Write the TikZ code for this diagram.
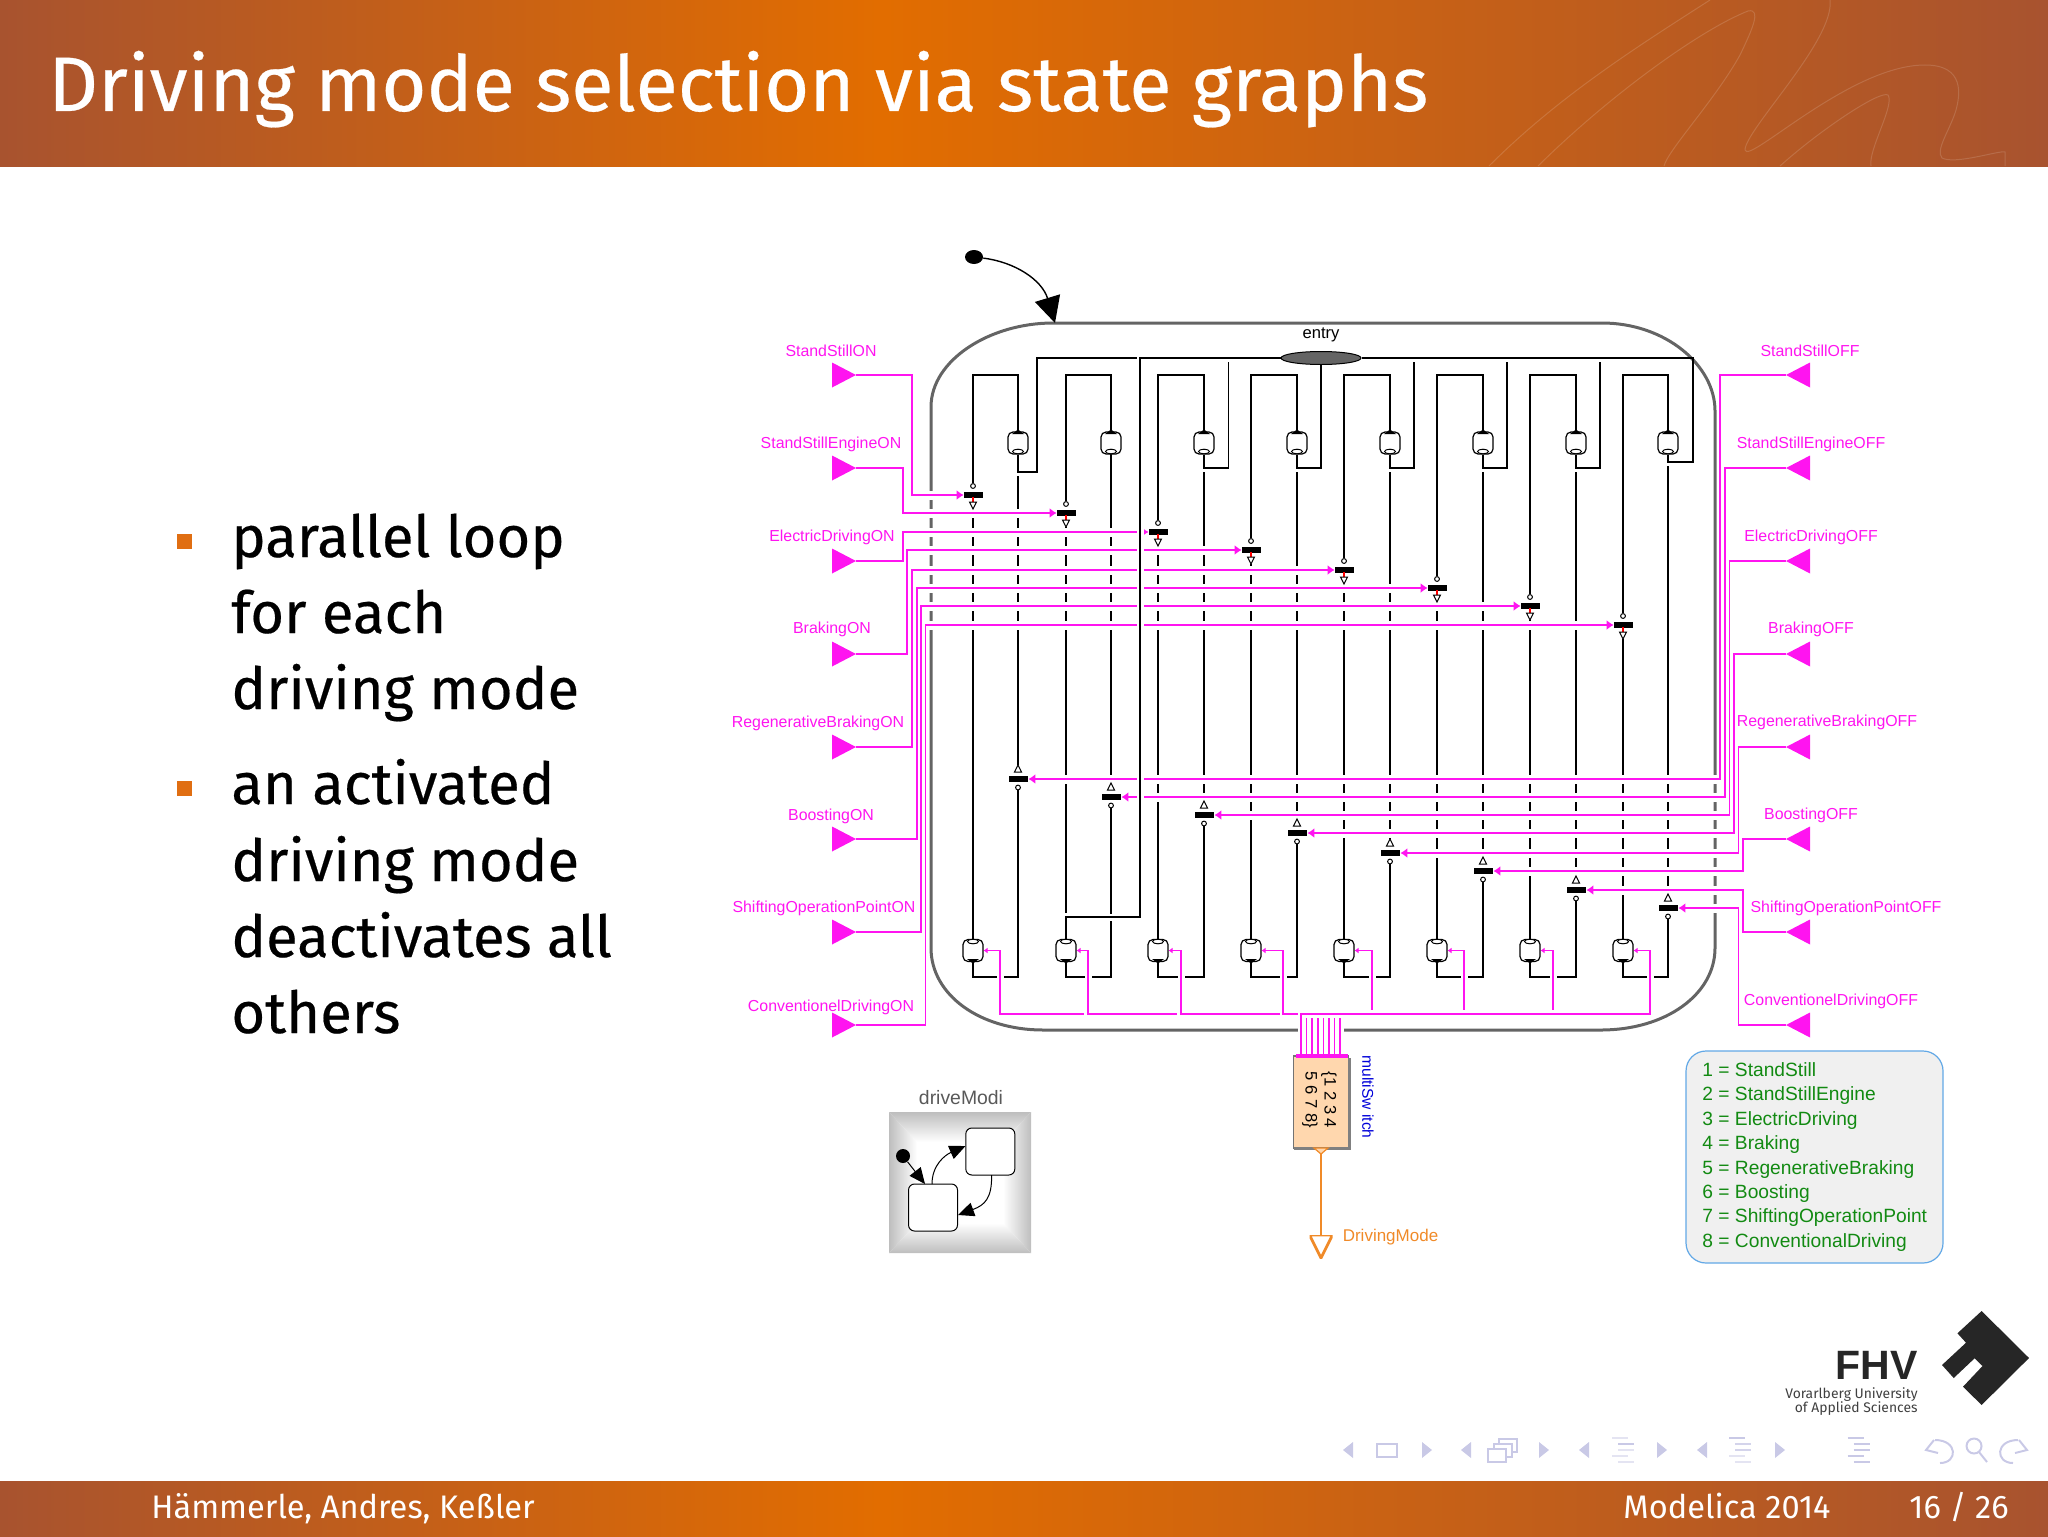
\documentclass[tikz,border=0pt]{standalone}
\usepackage{fontspec}
\setmainfont{Liberation Sans}
\newfontfamily\firafont{Fira Sans}
\newfontfamily\firaheavy{Fira Sans}[FakeBold=0.35]
\usetikzlibrary{arrows.meta,shapes.geometric}
\definecolor{bandedge}{HTML}{A8532F}
\definecolor{bandmid}{HTML}{E26D00}
\definecolor{pmag}{HTML}{FF14F0}
\definecolor{rimgray}{HTML}{646464}
\definecolor{orout}{HTML}{F08A28}
\definecolor{peach}{HTML}{FFD7AE}
\definecolor{navc}{HTML}{C9C9E6}
\definecolor{leggreen}{HTML}{128A12}
\definecolor{legline}{HTML}{62A8E6}
\definecolor{iconedge}{HTML}{BEBEBE}
\definecolor{bulletc}{HTML}{E06E12}
\pgfdeclarehorizontalshading{bandshade}{100bp}{color(0bp)=(bandedge);color(25bp)=(bandedge);color(46.5bp)=(bandmid);color(75bp)=(bandedge);color(100bp)=(bandedge)}
\pgfdeclarelayer{under}
\pgfsetlayers{under,main}
\tikzset{
  blk/.style={black,line width=0.65pt},
  magline/.style={pmag,line width=0.8pt},
  magarrow/.style={magline,-{Latex[length=3.5pt,width=5pt]}},
  halo/.style={white,line width=4.5pt},
  rimline/.style={rimgray,line width=1.5pt},
  stepbox/.style={rectangle,rounded corners=2.5pt,draw=black,fill=white,line width=0.6pt,minimum width=10pt,minimum height=11pt,inner sep=0pt},
  barnode/.style={rectangle,fill=black,minimum width=9.5pt,minimum height=2.6pt,inner sep=0pt},
  tickcirc/.style={circle,draw=black,fill=white,line width=0.5pt,minimum size=2.4pt,inner sep=0pt},
  onport/.style={rectangle,inner sep=0pt,minimum width=12pt,minimum height=12.5pt,path picture={\fill[pmag] (path picture bounding box.north west) -- (path picture bounding box.east) -- (path picture bounding box.south west) -- cycle;}},
  offport/.style={rectangle,inner sep=0pt,minimum width=12pt,minimum height=12.5pt,path picture={\fill[pmag] (path picture bounding box.north east) -- (path picture bounding box.west) -- (path picture bounding box.south east) -- cycle;}},
  maglabel/.style={text=pmag,font=\fontsize{7.95}{9}\selectfont,inner sep=0pt},
  titletext/.style={text=white,font=\firaheavy\fontsize{38.6}{44}\selectfont,anchor=base west,inner sep=0pt},
  bodytext/.style={text=black,font=\firaheavy\fontsize{29}{34}\selectfont,anchor=base west,inner sep=0pt},
  foottext/.style={text=white,font=\firafont\fontsize{16.3}{20}\selectfont,anchor=base west,inner sep=0pt},
  bullet/.style={rectangle,fill=bulletc,minimum size=7.5pt,inner sep=0pt},
  navfill/.style={fill=navc,draw=none},
  navline/.style={navc,line width=1pt},
  wisp/.style={white,opacity=0.14,line width=0.5pt},
}
\begin{document}
\begin{tikzpicture}[x=0.5pt,y=-0.5pt]
\useasboundingbox (0,0) rectangle (2048,1536);
% header and footer bands
\shade[shading=bandshade] (0,0) rectangle (2048,166);
\shade[shading=bandshade] (0,1481) rectangle (2048,1536);
\draw[wisp] (1489,166) .. controls (1560,95) and (1640,45) .. (1710,0);
\draw[wisp] (1538,166) .. controls (1610,95) and (1700,30) .. (1748,11) .. controls (1762,8) and (1752,30) .. (1740,55) .. controls (1715,100) and (1668,150) .. (1664,166);
\draw[wisp] (1830,0) .. controls (1835,40) and (1745,130) .. (1745,150) .. controls (1748,165) and (1850,65) .. (1925,65) .. controls (1965,65) and (1960,95) .. (1956,110) .. controls (1950,130) and (1935,150) .. (1942,158) .. controls (1955,165) and (2000,150) .. (2005,152) -- (2005,166);
\draw[wisp] (1780,166) .. controls (1820,130) and (1880,90) .. (1888,95) .. controls (1895,105) and (1868,150) .. (1871,166);
\node[titletext] (title) at (48,111) {Driving mode selection via state graphs};
% body text
\node[bullet] (b1) at (184.5,541) {};
\node[bullet] (b2) at (184.5,788) {};
\node[bodytext] (l1) at (231,557) {parallel loop};
\node[bodytext] (l2) at (231,633) {for each};
\node[bodytext] (l3) at (231,709) {driving mode};
\node[bodytext] (l4) at (231,804) {an activated};
\node[bodytext] (l5) at (231,881) {driving mode};
\node[bodytext] (l6) at (231,957) {deactivates all};
\node[bodytext] (l7) at (231,1033) {others};
% footer text
\node[foottext] (f1) at (151,1518) {Hämmerle, Andres, Keßler};
\node[foottext] (f2) at (1623,1518) {Modelica 2014};
\node[foottext] (f3) at (1909,1518) {16 / 26};
% logo
\fill[black!85] (1981.6,1311) -- (2029,1358) -- (1981.6,1405) -- (1963,1386.7) -- (1982.5,1366) -- (1974.6,1358.3) -- (1953.7,1378) -- (1942,1365) -- (1966,1342.7) -- (1957.4,1333.3) -- cycle;
\node[anchor=base east,inner sep=0pt,font=\bfseries\fontsize{20.5}{24}\selectfont,text=black!85] (fhv) at (1918,1379) {FHV};
\node[anchor=east,inner sep=0pt,font=\firafont\fontsize{6.95}{8}\selectfont,text=black!75] (vor) at (1918,1394.5) {Vorarlberg University};
\node[anchor=east,inner sep=0pt,font=\firafont\fontsize{6.95}{8}\selectfont,text=black!75] (app) at (1918,1409) {of Applied Sciences};
% navigation symbols
\foreach \x in {1348,1466,1584,1702}{\fill[navfill] (\x+5,1442) -- (\x-5,1450) -- (\x+5,1458) -- cycle;}
\foreach \x in {1427,1544,1662,1780}{\fill[navfill] (\x-5,1442) -- (\x+5,1450) -- (\x-5,1458) -- cycle;}
\draw[navline] (1377,1444) rectangle (1397,1457);
\draw[navline] (1499,1439) rectangle (1517,1452);
\draw[navline,fill=white] (1494,1444) rectangle (1512,1457);
\draw[navline,fill=white] (1488,1449) rectangle (1506,1462);
\foreach \x/\oa/\ob/\oc/\od/\oe in {1623/.5/1/.5/.5/.5,1740/1/.8/.8/.5/.5,1858.5/1/1/1/1/1}{
  \draw[navline,line width=1.3pt,opacity=\oa] (\x-11,1438) -- (\x+5,1438);
  \draw[navline,line width=1.3pt,opacity=\ob] (\x-5,1444) -- (\x+11,1444);
  \draw[navline,line width=1.3pt,opacity=\oc] (\x-5,1450) -- (\x+11,1450);
  \draw[navline,line width=1.3pt,opacity=\od] (\x-11,1456) -- (\x+5,1456);
  \draw[navline,line width=1.3pt,opacity=\oe] (\x-5,1462) -- (\x+11,1462);
}
\draw[navline] (1935,1440) .. controls (1958,1440) and (1958,1463) .. (1940,1463);
\draw[navline] (1934,1440) -- (1926,1450) -- (1938,1453);
\draw[navline] (1974,1446) circle[radius=7.5];
\draw[navline] (1979,1452) -- (1987,1462);
\draw[navline] (2018,1440) .. controls (1995,1440) and (1995,1463) .. (2013,1463);
\draw[navline] (2019,1440) -- (2027,1450) -- (2015,1453);

% state-machine nodes
\node[ellipse,fill=black,minimum width=9pt,minimum height=7pt,inner sep=0pt] (init) at (974,257) {};
\coordinate (rimentry) at (1055,323);
\node[ellipse,draw=black,fill=rimgray,line width=0.5pt,minimum width=40pt,minimum height=6.5pt,inner sep=0pt] (entry) at (1321,358) {};
\node[inner sep=0pt,font=\fontsize{8.3}{10}\selectfont] (entrytxt) at (1321,335) {entry};
\foreach \i/\L/\R/\ya/\yb in {1/973/1018/495/779,2/1066/1111/513/797,3/1158/1204/532/815,4/1251/1297/550/833,5/1344/1390/570/853,6/1437/1483/588/871,7/1530/1576/606/890,8/1623/1668/625/908}{
  \node[stepbox] (stepT\i) at (\R,443) {};
  \fill (\R-6,434) -- (\R,429.5) -- (\R+6,434) -- cycle;
  \draw[line width=0.5pt,fill=white] (\R,451.5) ellipse[x radius=5.5,y radius=2.3];
  \node[stepbox] (stepB\i) at (\L,950.5) {};
  \fill (\L-6,959) -- (\L,963.5) -- (\L+6,959) -- cycle;
  \draw[line width=0.5pt,fill=white] (\L,941.5) ellipse[x radius=5.5,y radius=2.3];
  \node[barnode] (onbar\i) at (\L+0.5,\ya) {};
  \node[tickcirc] (onc\i) at (\L,\ya-9) {};
  \draw[red,line width=0.6pt] (\L,\ya+2) -- (\L,\ya+7);
  \draw[line width=0.5pt,fill=white] (\L-3.5,\ya+7) -- (\L+3.5,\ya+7) -- (\L,\ya+14) -- cycle;
  \node[barnode] (offbar\i) at (\R+0.5,\yb) {};
  \node[tickcirc] (offc\i) at (\R,\yb+8.5) {};
  \draw[line width=0.5pt,fill=white] (\R-3.5,\yb-7) -- (\R+3.5,\yb-7) -- (\R,\yb-14) -- cycle;
}
% ports and labels
\foreach \i/\y/\tx/\ty/\lab in {1/375/831/350.5/StandStillON,2/468/831/444.5/StandStillEngineON,3/561/832/537.5/ElectricDrivingON,4/654/832/629.5/BrakingON,5/747/818/723.5/RegenerativeBrakingON,6/839/831/816/BoostingON,7/932/824/908.5/ShiftingOperationPointON,8/1025/831/1007.5/ConventionelDrivingON}{
  \node[onport] (on\i) at (844,\y) {};
  \node[maglabel] (labon\i) at (\tx,\ty) {\lab};
}
\foreach \i/\y/\tx/\ty/\lab in {1/375/1810/350.5/StandStillOFF,2/468/1811/444.5/StandStillEngineOFF,3/561/1811/537.5/ElectricDrivingOFF,4/654/1811/629.5/BrakingOFF,5/747/1827/722.5/RegenerativeBrakingOFF,6/839/1811/815.5/BoostingOFF,7/932/1846/908.5/ShiftingOperationPointOFF,8/1025/1831/1001.5/ConventionelDrivingOFF}{
  \node[offport] (off\i) at (1798,\y) {};
  \node[maglabel] (laboff\i) at (\tx,\ty) {\lab};
}
% multiSwitch
\node[rectangle,draw=black!55,fill=peach,line width=0.7pt,minimum width=27.5pt,minimum height=46pt,inner sep=0pt] (msw) at (1321,1102) {};
\draw[black!50,line width=1.5pt] (1294,1148) -- (1349,1148) -- (1349,1058);
\node[rotate=-90,inner sep=0pt,font=\fontsize{8.3}{10}\selectfont] (sw1) at (1329,1100) {\{1 2 3 4};
\node[rotate=-90,inner sep=0pt,font=\fontsize{8.3}{10}\selectfont] (sw2) at (1310,1100) {5 6 7 8\}};
\node[rotate=-90,inner sep=0pt,text=blue!85!black,font=\fontsize{7.8}{9}\selectfont] (swlab) at (1368,1097) {multiSw\kern2.2pt\relax itch};
\draw[pmag,line width=2pt] (1296,1056) -- (1348,1056);
% output
\coordinate (outtop) at (1321,1153);
\node[rectangle,inner sep=0pt,minimum width=11.5pt,minimum height=11.5pt,path picture={\draw[orout,line width=1.4pt] (path picture bounding box.north west) -- (path picture bounding box.north east) -- (path picture bounding box.south) -- cycle;}] (outport) at (1321,1246.5) {};
\draw[orout,line width=0.6pt,fill=peach] (1314,1148) -- (1328,1148) -- (1321,1154) -- cycle;
\node[text=orout,inner sep=0pt,font=\fontsize{8.5}{10}\selectfont] (outlab) at (1390.5,1237) {DrivingMode};
% driveModi icon
\fill[white] (889,1112) rectangle (1031,1253);
\shade[top color=iconedge,bottom color=white] (889,1112) -- (1031,1112) -- (1003,1142) -- (917,1142) -- cycle;
\shade[bottom color=iconedge,top color=white] (889,1253) -- (1031,1253) -- (1003,1223) -- (917,1223) -- cycle;
\shade[left color=iconedge,right color=white] (889,1112) -- (917,1142) -- (917,1223) -- (889,1253) -- cycle;
\shade[right color=iconedge,left color=white] (1031,1112) -- (1003,1142) -- (1003,1223) -- (1031,1253) -- cycle;
\node[inner sep=0pt,text=black!65,font=\fontsize{9.7}{11}\selectfont] (iconlab) at (961,1098) {driveModi};
\node[rectangle,rounded corners=3pt,draw=black,fill=white,line width=0.5pt,minimum width=24.5pt,minimum height=23.5pt,inner sep=0pt] (iconA) at (990.3,1151.5) {};
\node[rectangle,rounded corners=3pt,draw=black,fill=white,line width=0.5pt,minimum width=24.5pt,minimum height=23.5pt,inner sep=0pt] (iconB) at (933,1207.5) {};
\node[ellipse,fill=black,minimum width=7pt,minimum height=7pt,inner sep=0pt] (icondot) at (903,1156) {};
\coordinate (iconAin) at (965.5,1146);
\coordinate (iconBtop) at (925,1184);
\coordinate (iconBright) at (958,1215);
\coordinate (iconAout) at (991.6,1175);
\coordinate (iconBout) at (932,1184);
\draw[line width=0.5pt,-{Triangle[length=8pt,width=7pt]}] (icondot) -- (iconBtop);
\draw[line width=0.5pt,-{Triangle[length=8pt,width=7pt]}] (iconBout) .. controls (932,1165) and (945,1155) .. (iconAin);
\draw[line width=0.5pt,-{Triangle[length=8pt,width=7pt]}] (iconAout) .. controls (992,1198) and (985,1205) .. (iconBright);
% legend
\node[rectangle,rounded corners=10pt,draw=legline,fill=black!6,line width=0.6pt,minimum width=128.5pt,minimum height=106pt,inner sep=0pt] (legend) at (1814.5,1157) {};
\node[anchor=west,inner sep=0pt,align=left,text=leggreen,font=\fontsize{9.6}{12.2}\selectfont] (legendtext) at (1702,1157) {1 = StandStill\\2 = StandStillEngine\\3 = ElectricDriving\\4 = Braking\\5 = RegenerativeBraking\\6 = Boosting\\7 = ShiftingOperationPoint\\8 = ConventionalDriving};

\begin{pgfonlayer}{under}
% outer composite state
\draw[rimline] (1053,323) -- (1602,323) .. controls (1665,323) and (1715,365) .. (1715,411) -- (1715,948) .. controls (1715,995) and (1665,1030) .. (1601,1030) -- (1043,1030) .. controls (980,1030) and (931,995) .. (931,948) -- (931,407) .. controls (931,360) and (990,323) .. (1053,323);
\draw[white,line width=4pt] (1298,1030) -- (1344,1030);
\draw[black,line width=0.7pt,-{Triangle[length=13pt,width=13pt]}] (init) .. controls (1015,262) and (1042,280) .. (rimentry);
% black columns
\foreach \i/\L/\R/\ya/\yb/\s in {1/973/1018/495/779/476,2/1066/1111/513/797/454,3/1158/1204/532/815/472,4/1251/1297/550/833/472,5/1344/1390/570/853/472,6/1437/1483/588/871/472,7/1530/1576/606/890/472,8/1623/1668/625/908/466}{
  \draw[blk] (onc\i) -- (\L,375) -- (\R,375) -- (stepT\i.north);
  \draw[blk] (\R,\s) -- (\R,\yb-14);
  \draw[blk] (offc\i) -- (\R,977) -- (\L,977) -- (stepB\i.south);
}
\foreach \i/\L/\ya in {1/973/495,3/1158/532,4/1251/550,5/1344/570,6/1437/588,7/1530/606,8/1623/625}{
  \draw[blk] (\L,\ya+14) -- (stepB\i.north);
}
\draw[blk] (1066,527) -- (1066,913);
% step loops
\draw[blk] (stepT1.south) |- (1037,472) -- (1037,358) -- (1137,358);
\foreach \i/\B in {3/1228.6,5/1414,6/1507,7/1600}{
  \draw[blk] (stepT\i.south) |- (\B,468) -- (\B,362);
}
\draw[blk] (stepT4.south) |- (1321,468) -- (entry.south);
% halos and magenta lines
\foreach \i/\vx/\yo in {1/912/375,2/903/468,3/903/561,4/907/654,5/912/747,6/917/839,7/921/932,8/925.5/1025}{
  \draw[halo] (928,0 |- onbar\i.west) -- (onbar\i.west);
  \draw[magarrow] (on\i.east) -- (\vx,\yo) |- (onbar\i.west);
}
\foreach \i/\vx/\yo in {1/1720/375,2/1725/468,3/1729.5/561,4/1734/654,5/1738.5/747,6/1743/839,7/1743/932,8/1738.5/1025}{
  \draw[halo] (offbar\i.east) -- (1718,0 |- offbar\i.east);
  \draw[magarrow] (off\i.west) -- (\vx,\yo) |- (offbar\i.east);
}
\foreach \i/\vx in {1/1000,2/1088,3/1181,4/1283,5/1372,6/1464,7/1553,8/1650}{
  \draw[white,line width=3.5pt] (\vx,968) -- (\vx,986);
}
\foreach \i/\vx/\ex/\ey in {1/1000/1084/1014,2/1088/1177/1014,3/1181/1280/1014,4/1283/1298/1014,5/1372/1372/1010,6/1464/1464/1010,7/1553/1553/1010}{
  \draw[pmag,line width=0.7pt,{Latex[length=2pt,width=3pt]}-] (stepB\i.east) -- (\vx,950.5) -- (\vx,\ey) -- (\ex,\ey);
}
\draw[pmag,line width=0.7pt,{Latex[length=2pt,width=3pt]}-] (stepB8.east) -- (1650,950.5) -- (1650,1014) -- (1301,1014) -- (1301,1055);
\foreach \x in {1306.6,1312.2,1317.8,1323.4,1329,1334.6,1340.2}{
  \draw[magline] (\x,1018) -- (\x,1055);
}
\draw[orout,line width=0.7pt] (outtop) -- (outport.north);
% main line of the parallel loop, over the magenta lines
\draw[white,line width=3.5pt] (1140,362) -- (1140,917);
\draw[white,line width=3.5pt] (1072,917) -- (1137,917);
\draw[blk] (stepT8.south) |- (1693,462) -- (1693,358) -- (entry.east);
\draw[blk] (entry.west) -- (1140,358) -- (1140,917) -| (stepB2.north);
\end{pgfonlayer}
\end{tikzpicture}
\end{document}
